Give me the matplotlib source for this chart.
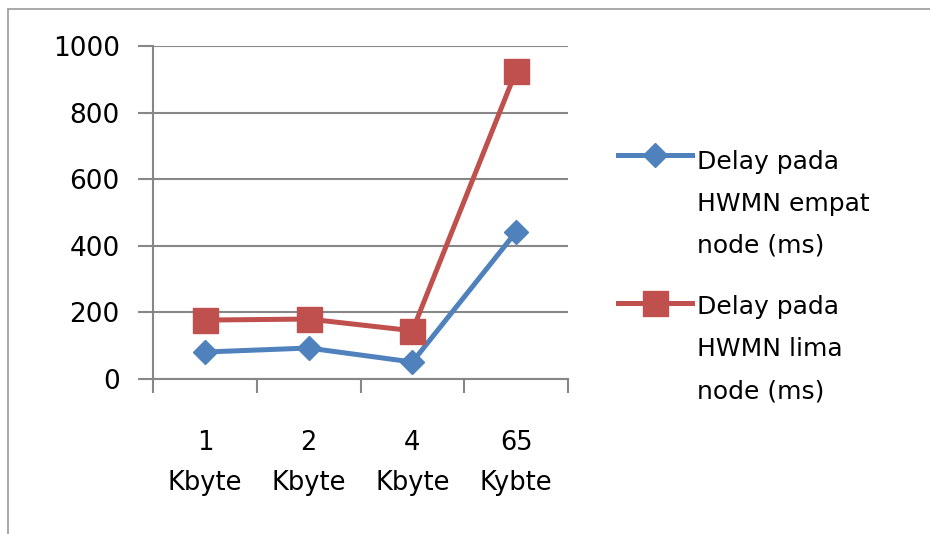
import matplotlib
matplotlib.use('Agg')
import matplotlib.pyplot as plt
from matplotlib.patches import Rectangle
from matplotlib.lines import Line2D

categories = ['1\nKbyte', '2\nKbyte', '4\nKbyte', '65\nKybte']
delay_empat = [81, 93, 51, 442]
delay_lima = [177, 180, 145, 925]
label_empat = 'Delay pada\nHWMN empat\nnode (ms)'
label_lima = 'Delay pada\nHWMN lima\nnode (ms)'
yticks = [0, 200, 400, 600, 800, 1000]

blue = '#4F81BD'
red = '#C0504D'
grid = '#878787'

plt.rcParams['font.family'] = ['DejaVu Sans']

W, H = 930, 534
fig = plt.figure(figsize=(W / 100, H / 100), dpi=100)
# chart frame (cut off at right and bottom like the screenshot)
fig.patches.append(Rectangle((8 / W, -0.1), 1.2, 1 - 9 / H + 0.1,
                             transform=fig.transFigure, fill=False,
                             edgecolor='#9a9a9a', linewidth=1.2))

ax = fig.add_axes([153 / W, 1 - 379 / H, 415 / W, 333 / H])
x = list(range(len(categories)))

ax.plot(x, delay_empat, color=blue, linewidth=3.6, marker='D', markersize=12.5,
        zorder=3)
ax.plot(x, delay_lima, color=red, linewidth=3.6, marker='s', markersize=18,
        zorder=3)

ax.set_xlim(-0.5, len(categories) - 0.5)
ax.set_ylim(0, 1000)
ax.set_yticks(yticks)
ax.set_yticklabels([str(v) for v in yticks])
ax.yaxis.grid(True, color=grid, linewidth=1.5)
ax.set_axisbelow(True)

ax.set_xticks([i - 0.5 for i in range(len(categories) + 1)])
ax.set_xticklabels([])
ax.set_xticks(x, minor=True)
ax.set_xticklabels(categories, minor=True, fontsize=18.5, linespacing=1.7)
ax.tick_params(axis='x', which='major', direction='out', length=10, width=1.5, color=grid)
ax.tick_params(axis='x', which='minor', length=0, pad=37)
ax.tick_params(axis='y', direction='out', length=11, width=1.5, color=grid,
               labelsize=19, pad=13)

for side in ['top', 'right']:
    ax.spines[side].set_visible(False)
for side in ['left', 'bottom']:
    ax.spines[side].set_color(grid)
    ax.spines[side].set_linewidth(1.5)

# legend drawn by hand so the marker sits on the first text line
# (y of the handle, y of the last text line's baseline, in pixels from top)
legend_items = [(label_empat, blue, 'D', 12.5, 155, 253),
                (label_lima, red, 's', 18, 303, 398)]
for text, col, mk, ms, y_handle, y_base in legend_items:
    yh = 1 - y_handle / H
    fig.lines.append(Line2D([618 / W, 655 / W, 692 / W], [yh, yh, yh],
                            transform=fig.transFigure, color=col, linewidth=3.6,
                            marker=mk, markersize=ms, markevery=[1]))
    fig.text(697 / W, 1 - y_base / H, text, fontsize=18, va='baseline',
             ha='left', linespacing=1.95)

fig.savefig('out.png', dpi=100)
